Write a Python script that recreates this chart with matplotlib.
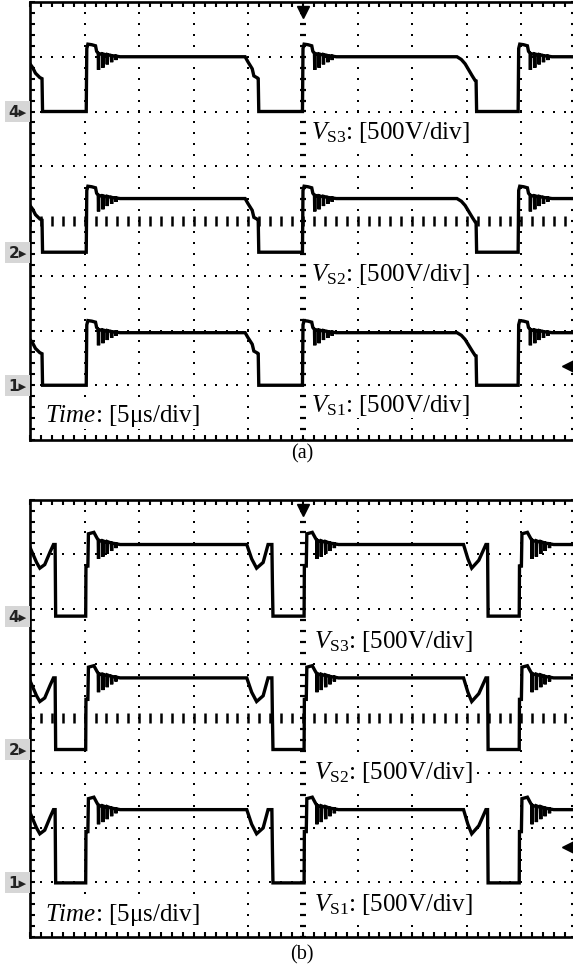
import numpy as np
import matplotlib
matplotlib.use("Agg")
import matplotlib.pyplot as plt
from matplotlib.ticker import MultipleLocator

plt.rcParams['font.family'] = ['Liberation Serif', 'DejaVu Sans']
plt.rcParams['mathtext.fontset'] = 'custom'
plt.rcParams['mathtext.rm'] = 'Liberation Serif'
plt.rcParams['mathtext.it'] = 'Liberation Serif:italic'
plt.rcParams['mathtext.bf'] = 'Liberation Serif:bold'

# ---------------- data (time in divisions of 5 us, voltage in divisions of 500 V) -------------
channel_labels = [r'$V_{\mathrm{S3}}$: [500V/div]', r'$V_{\mathrm{S2}}$: [500V/div]', r'$V_{\mathrm{S1}}$: [500V/div]']
channel_ids = ['4', '2', '1']
time_label = r'$\mathit{Time}$: [5μs/div]'
panel_tags = ['(a)', '(b)']

# panel (a)
ground_a = [2.00, -0.57, -3.00]
amp_a = [1.00, 0.98, 0.96]
rise_a = [1.03, 4.99, 8.94]
fall_a_t = [[0.00, 0.05, 0.10, 0.18, 0.22, 0.23],
            [3.94, 3.99, 4.07, 4.10, 4.17, 4.18, 4.19],
            [7.82, 7.90, 7.97, 8.10, 8.15, 8.17, 8.18]]
fall_a_v = [[0.87, 0.80, 0.70, 0.62, 0.60, 0.00],
            [1.00, 0.91, 0.78, 0.65, 0.61, 0.60, 0.00],
            [1.00, 0.95, 0.87, 0.65, 0.57, 0.56, 0.00]]
ring_a_dt = [0.00, 0.01, 0.03, 0.10, 0.17, 0.19,
             0.22, 0.225, 0.23, 0.30, 0.305, 0.31, 0.38, 0.385, 0.39,
             0.46, 0.465, 0.47, 0.54, 0.545, 0.55, 0.62]
ring_a_v = [0.00, 1.15, 1.23, 1.22, 1.20, 1.10,
            1.06, 0.76, 1.06, 1.04, 0.80, 1.05, 1.03, 0.86, 1.04,
            1.02, 0.90, 1.02, 1.01, 0.94, 1.01, 1.00]

# panel (b)
ground_b = [1.87, -0.57, -3.01]
amp_b = [1.31, 1.31, 1.34]
rise_b = [1.02, 5.02, 8.96]
fall_b_t = [[0.00, 0.12, 0.18, 0.27, 0.37, 0.43, 0.46, 0.47],
            [3.97, 4.06, 4.15, 4.27, 4.36, 4.43, 4.44, 4.45],
            [7.94, 8.02, 8.09, 8.22, 8.35, 8.38, 8.39]]
fall_b_v = [[0.96, 0.75, 0.67, 0.72, 0.90, 1.00, 1.00, 0.00],
            [1.00, 0.80, 0.67, 0.75, 1.00, 1.00, 0.45, 0.00],
            [1.00, 0.80, 0.67, 0.78, 1.00, 1.00, 0.00]]
ring_b_dt = [0.00, 0.005, 0.04, 0.05, 0.15, 0.20,
             0.23, 0.235, 0.24, 0.31, 0.315, 0.32, 0.39, 0.395, 0.40,
             0.47, 0.475, 0.48, 0.55, 0.555, 0.56, 0.63]
ring_b_v = [0.00, 0.70, 0.70, 1.15, 1.17, 1.10,
            1.06, 0.80, 1.06, 1.04, 0.83, 1.05, 1.03, 0.87, 1.04,
            1.02, 0.91, 1.02, 1.01, 0.95, 1.01, 1.00]


def waveform(falls_t, falls_v, rises, ring_dt, ring_v):
    t, v = [], []
    for ft, fv, r in zip(falls_t, falls_v, rises):
        t += list(ft)
        v += list(fv)
        t += [r + d for d in ring_dt]
        v += list(ring_v)
    t.append(10.0)
    v.append(1.0)
    return np.array(t), np.array(v)


W, H = 573, 970
fig = plt.figure(figsize=(W / 100, H / 100), dpi=100)

panels = [
    dict(rect=[30 / W, 1 - 441 / H, 546 / W, 438 / H], ground=ground_a, amp=amp_a,
         wave=waveform(fall_a_t, fall_a_v, rise_a, ring_a_dt, ring_a_v),
         label_y=[1.63, -0.95, -3.36], label_x=5.15, time_y=-3.54, trig_y=-2.65,
         tag_y=454),
    dict(rect=[30 / W, 1 - 938 / H, 546 / W, 437.3 / H], ground=ground_b, amp=amp_b,
         wave=waveform(fall_b_t, fall_b_v, rise_b, ring_b_dt, ring_b_v),
         label_y=[1.43, -0.98, -3.38], label_x=5.2, time_y=-3.58, trig_y=-2.35,
         tag_y=955),
]

for p, tag in zip(panels, panel_tags):
    ax = fig.add_axes(p['rect'])
    ax.set_xlim(0, 10)
    ax.set_ylim(-4, 4)
    for s in ax.spines.values():
        s.set_linewidth(1.9)
    ax.xaxis.set_major_locator(MultipleLocator(0.2))
    ax.yaxis.set_major_locator(MultipleLocator(0.2))
    ax.tick_params(direction='in', length=3.8, width=1.5, top=True, right=True,
                   bottom=True, left=True, labelbottom=False, labelleft=False)

    # dotted graticule
    fine_x = np.arange(0, 10.001, 0.2)
    fine_y = np.arange(-4, 4.001, 0.2)
    for gx in [1, 2, 3, 4, 6, 7, 8, 9, 10]:
        ax.plot(np.full_like(fine_y, gx), fine_y, ls='none', marker='s', ms=1.8,
                mew=0, color='black', zorder=1)
    for gy in [-3, -2, -1, 1, 2, 3]:
        ax.plot(fine_x, np.full_like(fine_x, gy), ls='none', marker='s', ms=1.8,
                mew=0, color='black', zorder=1)
    # centre axes with ticks
    ax.plot(fine_x, np.zeros_like(fine_x), ls='none', marker='|', ms=7.5, mew=1.8,
            color='black', zorder=1)
    ax.plot(np.full_like(fine_y, 5.0), fine_y, ls='none', marker='_', ms=5, mew=1.6,
            color='black', zorder=1)

    # traces
    t, v = p['wave']
    for g, a in zip(p['ground'], p['amp']):
        ax.plot(t, g + a * v, color='black', lw=2.4, zorder=3, solid_joinstyle='miter')

    # channel labels
    for lab, ly in zip(channel_labels, p['label_y']):
        ax.text(p['label_x'], ly, lab, fontsize=18, ha='left', va='center', zorder=4,
                bbox=dict(facecolor='white', edgecolor='none', pad=0.8))
    ax.text(0.27, p['time_y'], time_label, fontsize=18, ha='left', va='center', zorder=4,
            bbox=dict(facecolor='white', edgecolor='none', pad=0.8))

    # channel ground markers
    for cid, g in zip(channel_ids, p['ground']):
        ax.text(-0.23, g, cid + '▸', fontsize=11, fontweight='bold', family='DejaVu Sans',
                color='#222222', ha='center', va='center', clip_on=False,
                bbox=dict(facecolor='#d6d6d6', edgecolor='none', pad=2.2))

    # trigger markers
    ax.plot([5.0], [3.82], marker='v', ms=8, color='black', ls='none', zorder=4)
    ax.plot([9.86], [p['trig_y']], marker='<', ms=8, color='black', ls='none', zorder=4)

    fig.text(302 / W, 1 - p['tag_y'] / H, tag, fontsize=14.5, ha='center', va='center')

fig.savefig('out.png', dpi=100)
